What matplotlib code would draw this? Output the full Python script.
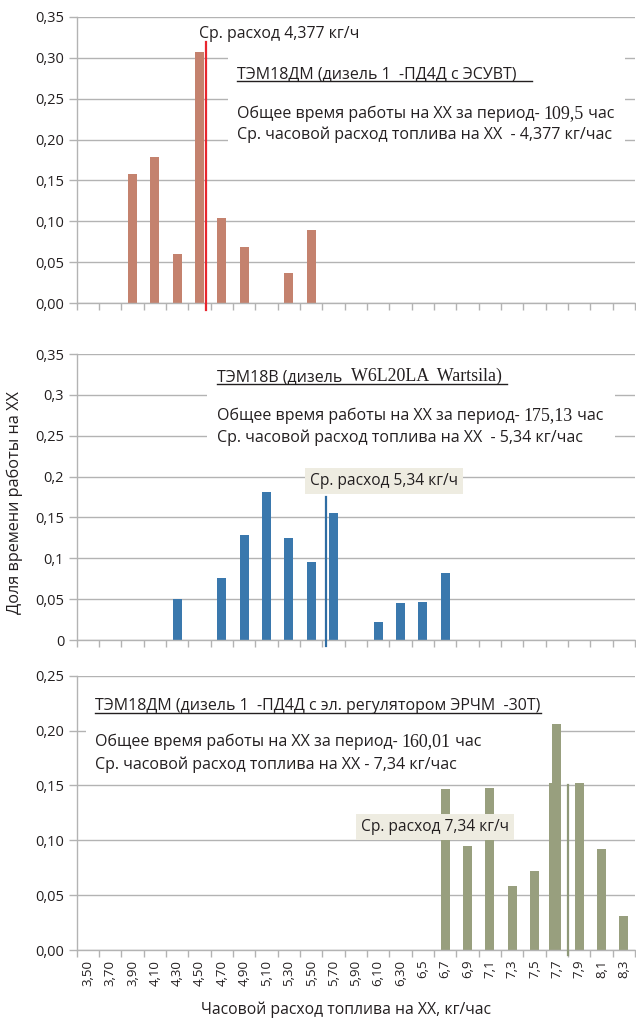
import matplotlib
matplotlib.use("Agg")
import matplotlib.pyplot as plt
from matplotlib.patches import Rectangle
from matplotlib.lines import Line2D

plt.rcParams['font.family'] = ['Open Sans', 'DejaVu Sans']

W, H = 636, 1024
TXT = "#231f20"
GRID = "#b3b3b3"
SANS = ['Open Sans', 'DejaVu Sans']
SERIF = ['Liberation Serif', 'DejaVu Serif']

# --- data ---
categories = ["3,50", "3,70", "3,90", "4,10", "4,30", "4,50", "4,70", "4,90",
              "5,10", "5,30", "5,50", "5,70", "5,90", "6,10", "6,30", "6,5",
              "6,7", "6,9", "7,1", "7,3", "7,5", "7,7", "7,9", "8,1", "8,3"]

share_esuvt = [0, 0, 0.158, 0.179, 0.060, 0.307, 0.104, 0.069, 0, 0.037, 0.089, 0,
               0, 0, 0, 0, 0, 0, 0, 0, 0, 0, 0, 0, 0]
share_wartsila = [0, 0, 0, 0, 0.050, 0, 0.076, 0.128, 0.181, 0.125, 0.096, 0.155,
                  0, 0.022, 0.045, 0.046, 0.082, 0, 0, 0, 0, 0, 0, 0, 0]
share_erchm = [0, 0, 0, 0, 0, 0, 0, 0, 0, 0, 0, 0,
               0, 0, 0, 0, 0.147, 0.095, 0.148, 0.058, 0.072, 0.206, 0.152, 0.092, 0.031]
# thin bar peeking out left of the 7,7 column
share_erchm_extra = [0, 0, 0, 0, 0, 0, 0, 0, 0, 0, 0, 0,
                     0, 0, 0, 0, 0, 0, 0, 0, 0, 0.152, 0, 0, 0]

# mean-consumption markers, in category units as drawn
mean_pos = [5.29, 10.65, 21.49]
mean_span = [(-0.008, 0.319), (-0.007, 0.175), (-0.005, 0.150)]

yticks_35 = [0, 0.05, 0.10, 0.15, 0.20, 0.25, 0.30, 0.35]
ylabels_top = ["0,00", "0,05", "0,10", "0,15", "0,20", "0,25", "0,30", "0,35"]
ylabels_mid = ["0", "0,05", "0,1", "0,15", "0,2", "0,25", "0,3", "0,35"]
yticks_25 = [0, 0.05, 0.10, 0.15, 0.20, 0.25]
ylabels_bot = ["0,00", "0,05", "0,10", "0,15", "0,20", "0,25"]


def px(x, y):
    return x / W, 1 - y / H


fig = plt.figure(figsize=(W / 100, H / 100), dpi=100)
fig.patch.set_facecolor("white")
rend = fig.canvas.get_renderer()

panels = [
    dict(rect=(76.7, 16.7, 558.3, 286.6), data=share_esuvt, color="#c4826e",
         line="#e8262e", lw=1.6, ylim=0.35, yt=yticks_35, yl=ylabels_top),
    dict(rect=(76.7, 354, 558.3, 286.0), data=share_wartsila, color="#3a78ad",
         line="#2f6da3", lw=1.6, ylim=0.35, yt=yticks_35, yl=ylabels_mid),
    dict(rect=(76.7, 675.7, 558.3, 274.3), data=share_erchm, color="#989f7e",
         line="#8e9878", lw=1.6, ylim=0.25, yt=yticks_25, yl=ylabels_bot),
]
white_boxes = [(228, 50, 397, 98), (207, 358, 408, 90), (86, 684, 468, 94)]

x = list(range(len(categories)))
axes = []
for i, p in enumerate(panels):
    l, t, w, h = p["rect"]
    ax = fig.add_axes([l / W, 1 - (t + h) / H, w / W, h / H])
    axes.append(ax)
    ax.set_axisbelow(True)
    ax.yaxis.grid(True, color=GRID, lw=1.0)
    if i == 2:
        ax.bar([v - 0.13 for v in x], share_erchm_extra, width=0.41,
               color=p["color"], zorder=2)
    ax.bar(x, p["data"], width=0.41, color=p["color"], zorder=2)
    ax.set_xlim(-0.5, len(categories) - 0.5)
    ax.set_ylim(0, p["ylim"])
    ax.set_yticks(p["yt"])
    ax.set_yticklabels(p["yl"], fontsize=10.5, color=TXT)
    ax.set_xticks(x)
    if i == 2:
        ax.set_xticklabels(categories, rotation=90, fontsize=9.5, color=TXT)
    else:
        ax.set_xticklabels([])
    ax.set_xticks([v - 0.5 for v in x] + [len(categories) - 0.5], minor=True)
    ax.tick_params(axis="x", which="major", length=0, pad=7)
    ax.tick_params(axis="x", which="minor", length=5, color=GRID, width=1)
    ax.tick_params(axis="y", length=6, color=GRID, width=1, pad=3)
    for s in ["top", "right"]:
        ax.spines[s].set_visible(False)
    for s in ["left", "bottom"]:
        ax.spines[s].set_color(GRID)
        ax.spines[s].set_linewidth(1.0)
    bx, by, bw, bh = white_boxes[i]
    ax.add_patch(Rectangle(px(bx, by + bh), bw / W, bh / H, transform=fig.transFigure,
                           fc="white", ec="none", zorder=1.5))
    lo, hi = mean_span[i]
    ax.plot([mean_pos[i], mean_pos[i]], [lo, hi], color=p["line"], lw=p["lw"],
            clip_on=False, zorder=3)


def put_runs(xp, yp, parts, size=11.5, underline_to=None):
    cur = xp
    for s, fam in parts:
        sz = size * 1.12 if fam is SERIF else size
        t = fig.text(*px(cur, yp), s, fontsize=sz, family=fam, color=TXT,
                     ha="left", va="baseline", zorder=5)
        cur = t.get_window_extent(rend).x1
    if underline_to is not None:
        y = 1 - (yp + 3) / H
        fig.add_artist(Line2D([xp / W, underline_to / W], [y, y], color=TXT, lw=1.0,
                              transform=fig.transFigure))


# top panel texts
put_runs(199, 38, [("Ср. расход 4,377 кг/ч", SANS)], size=11.4)
put_runs(237, 78, [("ТЭМ18ДМ (дизель 1  -ПД4Д с ЭСУВТ)", SANS)], underline_to=532)
put_runs(237, 118, [("Общее время работы на ХХ за период- ", SANS), ("109,5", SERIF),
                    (" час", SANS)])
put_runs(237, 139, [("Ср. часовой расход топлива на ХХ  - 4,377 кг/час", SANS)])

# middle panel texts
put_runs(217, 381, [("ТЭМ18В (дизель  ", SANS), ("W6L20LA  Wartsila)", SERIF)],
         underline_to=507)
put_runs(217, 420, [("Общее время работы на ХХ за период- ", SANS), ("175,13", SERIF),
                    (" час", SANS)])
put_runs(217, 442, [("Ср. часовой расход топлива на ХХ  - 5,34 кг/час", SANS)])

# bottom panel texts
put_runs(95, 710, [("ТЭМ18ДМ (дизель 1  -ПД4Д с эл. регулятором ЭРЧМ  -30Т)", SANS)],
         underline_to=541)
put_runs(95, 746, [("Общее время работы на ХХ за период- ", SANS), ("160,01", SERIF),
                   (" час", SANS)])
put_runs(95, 769, [("Ср. часовой расход топлива на ХХ - 7,34 кг/час", SANS)])

box = dict(boxstyle="square,pad=0.35", fc="#eeece1", ec="none")
fig.text(*px(310, 485), "Ср. расход 5,34 кг/ч", fontsize=11.2, color=TXT,
         ha="left", va="baseline", bbox=box, zorder=6)
fig.text(*px(361, 831), "Ср. расход 7,34 кг/ч", fontsize=11.2, color=TXT,
         ha="left", va="baseline", bbox=box, zorder=6)

fig.text(*px(15, 503), "Доля времени работы на ХХ", rotation=90, fontsize=11.7,
         color=TXT, ha="center", va="center")
fig.text(*px(346, 1010), "Часовой расход топлива на ХХ, кг/час", fontsize=11.3,
         color=TXT, ha="center", va="center")

fig.savefig("out.png", dpi=100)
